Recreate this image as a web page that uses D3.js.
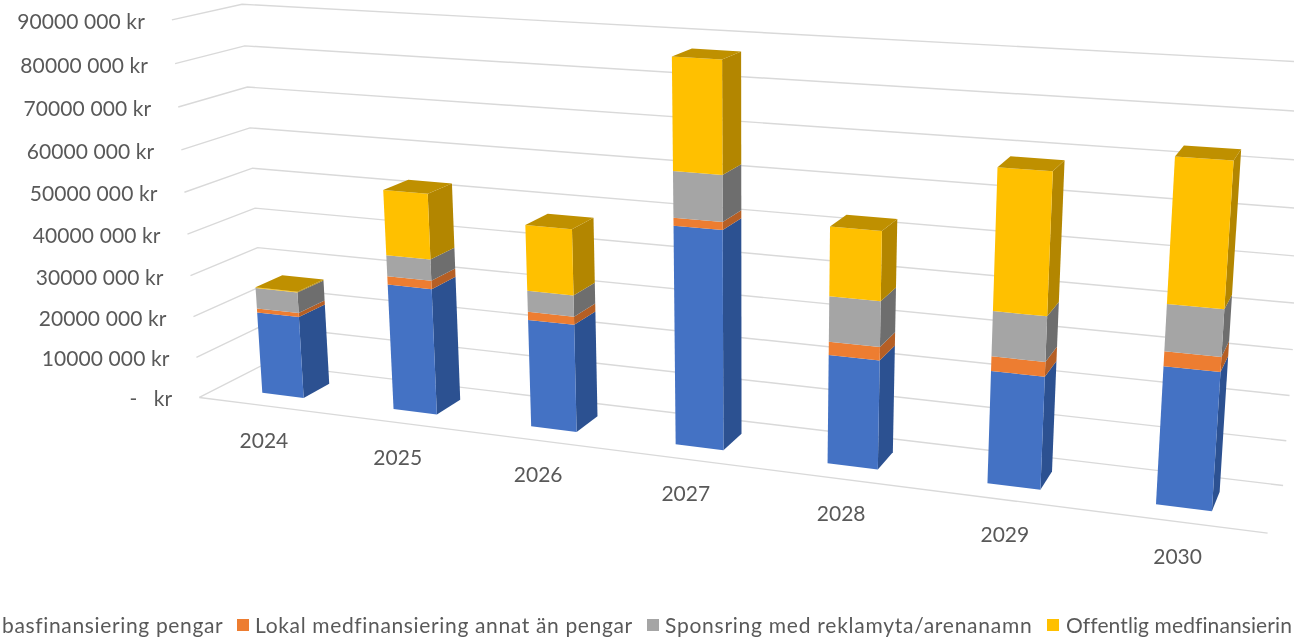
<!DOCTYPE html>
<html><head><meta charset="utf-8">
<script src="https://cdn.jsdelivr.net/npm/d3@7/dist/d3.min.js"></script>
<style>html,body{margin:0;padding:0;background:#fff;overflow:hidden}svg{display:block;filter:blur(.4px)}
text{font-family:Lato,"Open Sans",sans-serif;fill:#595959;white-space:pre}</style>
</head><body><svg id="c" width="1294" height="639"></svg>
<script>
const years=["2024","2025","2026","2027","2028","2029","2030"];
const basfinansiering=[20,30.2,25.3,50.1,24.6,24.9,29.8];
const lokalAnnat=[1,2,1.9,1.8,3,3.2,3.2];
const sponsring=[5,5,4.9,10.3,10.1,9.8,9.9];
const offentlig=[0.2,15.3,15.2,24.8,15.2,30.4,30.2];
const seriesNames=["basfinansiering pengar","Lokal medfinansiering annat än pengar","Sponsring med reklamyta/arenanamn","Offentlig medfinansierin"];
const frontColors=["#4472C4","#ED7D31","#A5A5A5","#FFC000"];
const sideColors=["#2C5191","#B55F25","#6E6E6E","#B38600"];
const topColor="#BF9000";
const tickValues=[0,10,20,30,40,50,60,70,80,90];
const tickLabels=["-   kr","10000 000 kr","20000 000 kr","30000 000 kr","40000 000 kr","50000 000 kr","60000 000 kr","70000 000 kr","80000 000 kr","90000 000 kr"];

const seriesValues=[basfinansiering,lokalAnnat,sponsring,offentlig];
const xBand=d3.scaleBand().domain(years).range([0,7]).paddingInner(.68).paddingOuter(.34);
const zScale=d3.scaleLinear().domain([0,90]).range([0,1]);
const yFront=.29,yBack=.70;
// camera calibration: plot-box points and where they sit on the page
const wallFrontLeft=[[200,398],[197,357],[193,316],[191,276],[187,234],[184,192],[181,150],[178,107],[175,63.5],[172,20]];
const wallBackLeft=[[265,364],[262,326],[260,287],[258,247],[255,208],[252,168],[250,128],[247,87],[245,46],[243,4.5]];
const wallBackRight=[[1283,486],[1286,440],[1289,395],[1293,350],[1296.5,303],[1300,256],[1303,208.5],[1306,160.7],[1310,112],[1313,63]];
const calib=[[7,0,0,1267,533],[xBand("2024"),yFront,0,263,392],[xBand("2027"),yFront,0,675,446],[xBand("2030"),yFront,0,1157,504]];
tickValues.forEach((v,i)=>{calib.push([0,0,v/90,...wallFrontLeft[i]],[0,1,v/90,...wallBackLeft[i]],[7,1,v/90,...wallBackRight[i]]);});
function solve(A,b){const n=b.length,M=A.map((r,i)=>[...r,b[i]]);
 for(let i=0;i<n;i++){let p=i;for(let r=i+1;r<n;r++)if(Math.abs(M[r][i])>Math.abs(M[p][i]))p=r;
  [M[i],M[p]]=[M[p],M[i]];
  for(let r=0;r<n;r++)if(r!==i){const f=M[r][i]/M[i][i];for(let c=i;c<=n;c++)M[r][c]-=f*M[i][c];}}
 return M.map((r,i)=>r[n]/r[i]);}
const rows=[],rhs=[];
calib.forEach(([X,Y,Z,x,y])=>{x/=1000;y/=1000;
 rows.push([X,Y,Z,1,0,0,0,0,-x*X,-x*Y,-x*Z]);rhs.push(x);
 rows.push([0,0,0,0,X,Y,Z,1,-y*X,-y*Y,-y*Z]);rhs.push(y);});
const AtA=d3.range(11).map(i=>d3.range(11).map(j=>d3.sum(rows,r=>r[i]*r[j])));
const Atb=d3.range(11).map(i=>d3.sum(rows,(r,k)=>r[i]*rhs[k]));
const P=solve(AtA,Atb);
function project(X,Y,v){const Z=zScale(v),w=P[8]*X+P[9]*Y+P[10]*Z+1;
 return [1000*(P[0]*X+P[1]*Y+P[2]*Z+P[3])/w,1000*(P[4]*X+P[5]*Y+P[6]*Z+P[7])/w];}

const svg=d3.select("#c");
const poly=d3.line();
const grid=svg.append("g");
tickValues.forEach(v=>{
 grid.append("path").attr("d",poly([project(0,0,v),project(0,1,v),project(7,1,v)]))
 .attr("fill","none").attr("stroke","#D9D9D9").attr("stroke-width",1.4);});
grid.append("path").attr("d",poly([project(0,0,0),project(7,0,0)])).attr("fill","none").attr("stroke","#D9D9D9").attr("stroke-width",1.4);

svg.append("g").selectAll("text").data(tickValues).join("text")
 .attr("x",v=>project(0,0,v)[0]-27).attr("y",v=>project(0,0,v)[1]+9)
 .attr("text-anchor","end").attr("font-size",21).attr("letter-spacing",.1).text((v,i)=>tickLabels[i]);

const stacked=years.map((y,i)=>{let c=0;return seriesValues.map((s,k)=>{const a=c;c+=s[i];return {year:y,k,a,b:c};});});
const barsG=svg.append("g");
years.forEach((y,i)=>{
 const x0=xBand(y),x1=x0+xBand.bandwidth();
 const g=barsG.append("g");
 stacked[i].forEach(d=>{
  g.append("path").attr("d",poly([project(x1,yFront,d.a),project(x1,yBack,d.a),project(x1,yBack,d.b),project(x1,yFront,d.b)])+"Z").attr("fill",sideColors[d.k]);
  g.append("path").attr("d",poly([project(x0,yFront,d.a),project(x1,yFront,d.a),project(x1,yFront,d.b),project(x0,yFront,d.b)])+"Z").attr("fill",frontColors[d.k]);
 });
 const t=stacked[i][3].b;
 g.append("path").attr("d",poly([project(x0,yFront,t),project(x1,yFront,t),project(x1,yBack,t),project(x0,yBack,t)])+"Z").attr("fill",topColor);
});

svg.append("g").selectAll("text").data(years).join("text")
 .attr("x",y=>project(xBand(y)+xBand.bandwidth()/2,0,0)[0]).attr("y",y=>project(xBand(y)+xBand.bandwidth()/2,0,0)[1]+42)
 .attr("text-anchor","middle").attr("font-size",21).text(y=>y);

const legendX=[2,255,665,1066], swatchX=[null,237,647,1047], legendSpacing=[.65,.65,.75,.1];
const lg=svg.append("g");
seriesNames.forEach((n,i)=>{
 if(swatchX[i]!==null) lg.append("rect").attr("x",swatchX[i]).attr("y",619).attr("width",12).attr("height",12).attr("fill",frontColors[i]);
 lg.append("text").attr("x",legendX[i]).attr("y",633).attr("font-size",21).attr("letter-spacing",legendSpacing[i]).text(n);
});
</script></body></html>
